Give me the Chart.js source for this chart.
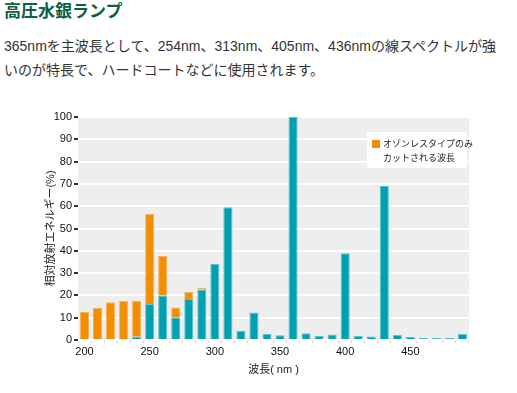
<!DOCTYPE html>
<html lang="ja">
<head>
<meta charset="utf-8">
<script src="https://cdn.jsdelivr.net/npm/chart.js@4.4.1/dist/chart.umd.min.js"></script>
<style>
  body { margin:0; background:#fff; font-family:"Liberation Sans","Noto Sans CJK JP",sans-serif; color:#333; }
  h2 { position:absolute; left:4px; top:0; margin:0; font-size:17px; line-height:24px; color:#0d6040; font-weight:bold; }
  p { position:absolute; left:4px; top:34px; margin:0; font-size:14px; line-height:24px; white-space:nowrap; }
  #wrap { position:absolute; left:40px; top:100px; width:470px; height:285px; }
  #legend { position:absolute; left:367px; top:132px; width:100px; height:36px; background:#fff; font-size:9px; line-height:14px; color:#222; white-space:nowrap; }
  #legend .sw { position:absolute; left:5px; top:8px; width:8px; height:8px; background:#f28e00; }
  #legend .t1 { position:absolute; left:16px; top:5px; }
  #legend .t2 { position:absolute; left:16px; top:19px; }
</style>
</head>
<body>
<h2>高圧水銀ランプ</h2>
<p>365nmを主波長として、254nm、313nm、405nm、436nmの線スペクトルが強<br>いのが特長で、ハードコートなどに使用されます。</p>
<div id="wrap"><canvas id="spec"></canvas></div>
<div id="legend"><span class="sw"></span><span class="t1">オゾンレスタイプのみ</span><span class="t2">カットされる波長</span></div>
<script>
// wavelength categories (nm)
const wavelengths = [200,210,220,230,240,250,260,270,280,290,300,310,320,330,340,350,360,370,380,390,400,410,420,430,440,450,460,470,480,490];
// relative energy, all lamp types (%)
const baseEnergy = [0,0,0,0.3,1.5,16.1,19.9,10.2,18.4,22.7,34.2,59.5,4.2,12.3,2.7,2.1,100,3.0,1.8,2.5,38.9,1.8,1.6,69.1,2.2,1.3,0.9,0.9,0.9,2.7];
// extra part cut only by ozone-less type (%)
const ozoneCut = [12.7,14.5,16.9,17.3,16.1,40.4,17.8,4.4,3.1,0.6,0,0,0,0,0,0,0,0,0,0,0,0,0,0,0,0,0,0,0,0];
const yTicks = [0,10,20,30,40,50,60,70,80,90,100];

const FONT = '"Liberation Sans","Noto Sans CJK JP",sans-serif';

// gray plot background
const bgPlugin = {
  id: 'plotBg',
  beforeDraw(chart) {
    const a = chart.chartArea, ctx = chart.ctx;
    ctx.save();
    ctx.fillStyle = '#eeeeee';
    ctx.fillRect(a.left, a.top, a.right - a.left, a.bottom - a.top);
    ctx.restore();
  }
};

new Chart(document.getElementById('spec'), {
  type: 'bar',
  data: {
    labels: wavelengths,
    datasets: [
      { label: '全タイプ', data: baseEnergy, backgroundColor: '#00a0b1', borderColor: '#5cc2cb', borderWidth: 1, borderSkipped: 'bottom' },
      { label: 'オゾンレスタイプのみカットされる波長', data: ozoneCut, backgroundColor: '#f28e00', borderColor: '#f5b25a', borderWidth: 1, borderSkipped: 'bottom' }
    ]
  },
  options: {
    responsive: true,
    maintainAspectRatio: false,
    animation: false,
    layout: { padding: { top: 17, right: 41, left: 0, bottom: 0 } },
    datasets: { bar: { barPercentage: 0.7, categoryPercentage: 1 } },
    plugins: { legend: { display: false }, tooltip: { enabled: false } },
    scales: {
      x: {
        stacked: true,
        afterFit: s => { s.height = 45; },
        grid: { display: true, drawOnChartArea: false, tickColor: '#cccccc', tickLength: 3, offset: true },
        border: { display: false },
        ticks: {
          autoSkip: false, maxRotation: 0, color: '#111', padding: 2,
          font: { family: FONT, size: 11 },
          callback: function(v) { const w = wavelengths[v]; return w % 50 === 0 ? String(w) : ''; }
        },
        title: { display: true, text: '波長( nm )', color: '#222', font: { family: FONT, size: 11 }, padding: { top: 0, bottom: 8 } }
      },
      y: {
        stacked: true,
        min: 0, max: 100,
        afterFit: s => { s.width = 38; },
        afterBuildTicks: s => { s.ticks = yTicks.map(v => ({ value: v })); },
        grid: { color: '#ffffff', lineWidth: 2, tickColor: '#333', tickLength: 4 },
        border: { display: false },
        ticks: { color: '#111', padding: 2, font: { family: FONT, size: 11 } },
        title: { display: true, text: '相対放射エネルギー(%)', color: '#222', font: { family: FONT, size: 11 }, padding: { top: 4, bottom: 0 } }
      }
    }
  },
  plugins: [bgPlugin]
});
</script>
</body>
</html>
